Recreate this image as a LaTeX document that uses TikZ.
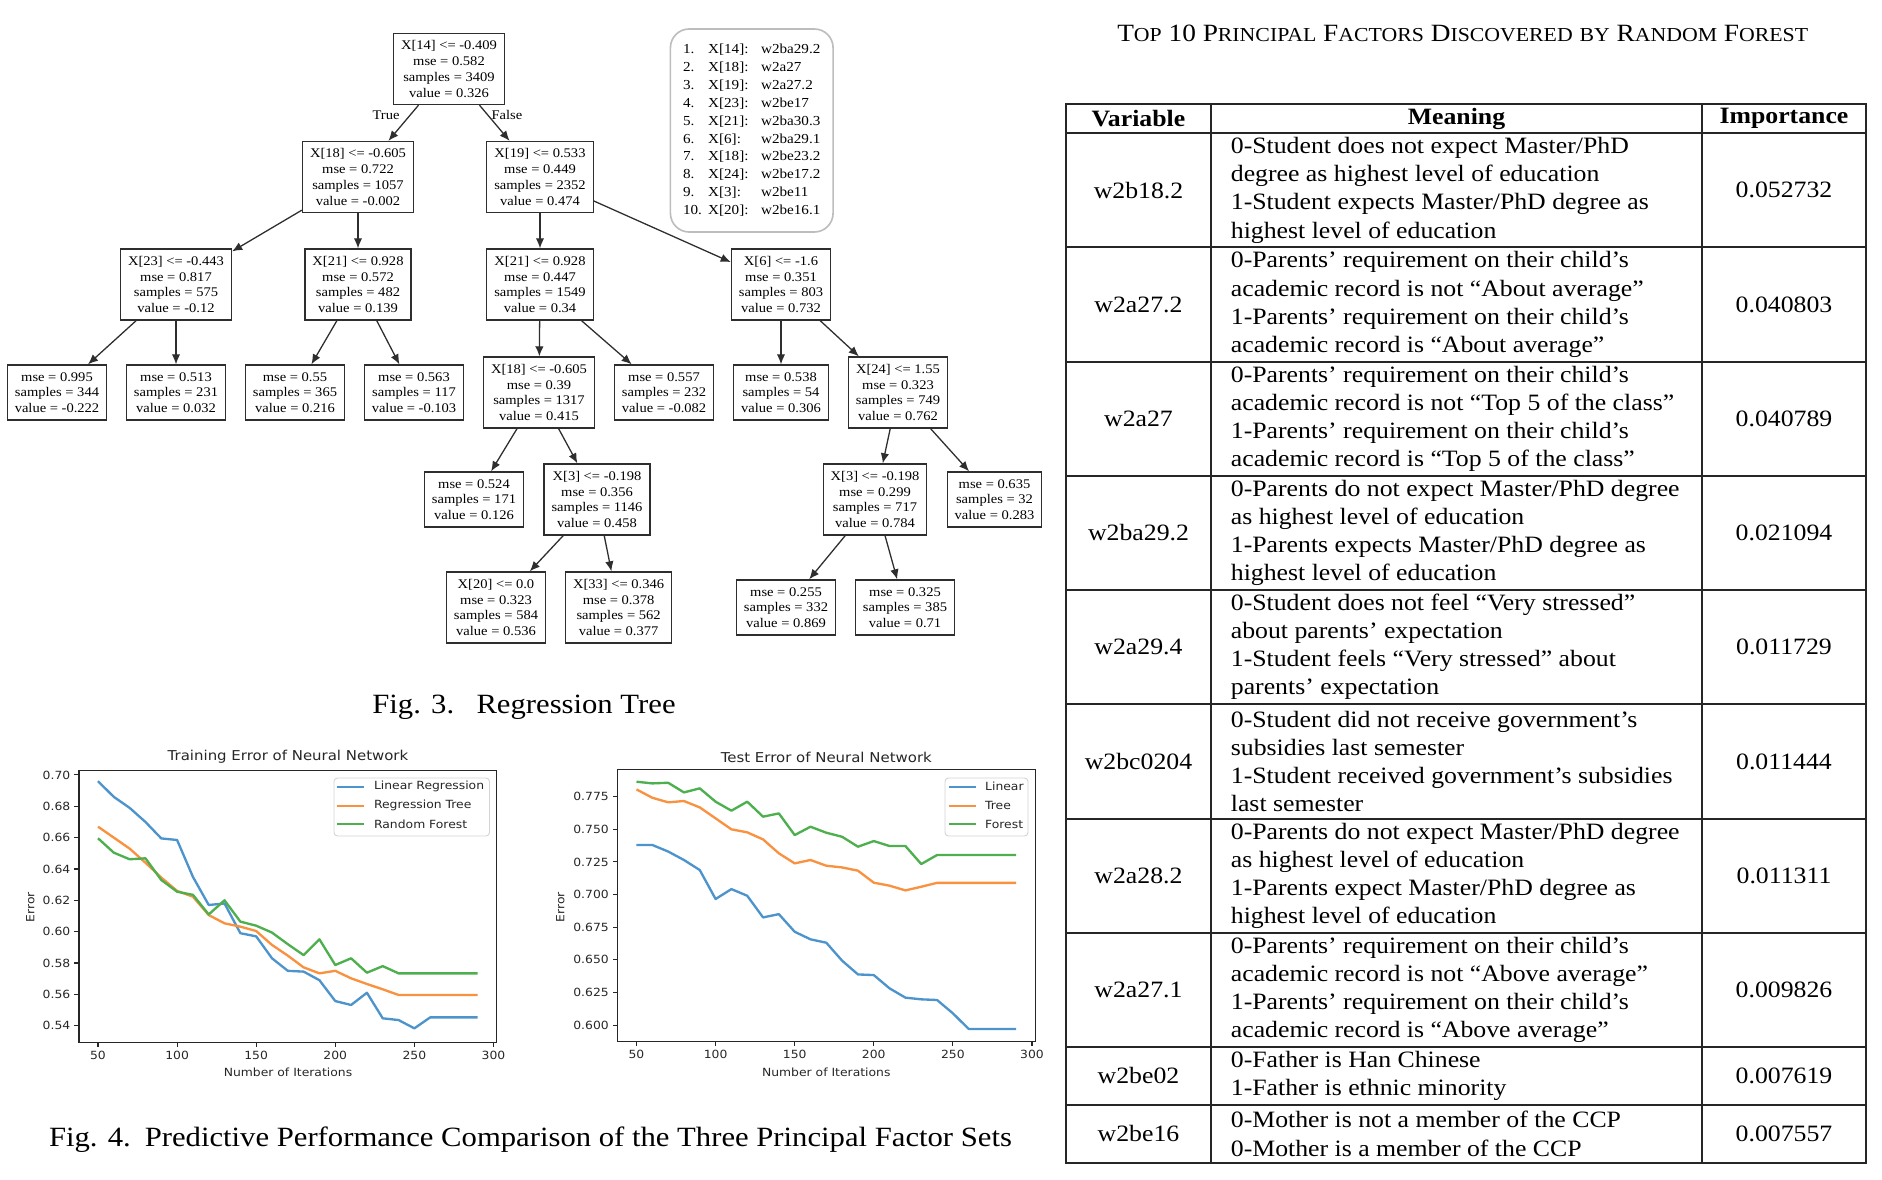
\documentclass[tikz,border=0pt]{standalone}
\usepackage{fontspec}
\setmainfont{Liberation Serif}[FakeStretch=1.1]
\newfontfamily\plotfont{DejaVu Sans}[FakeStretch=1.1]
\usepackage{tikz}
\usetikzlibrary{arrows.meta,calc}
\definecolor{treeline}{HTML}{2E2E2E}
\definecolor{keyline}{HTML}{BDBDBD}
\definecolor{ink}{HTML}{262626}
\definecolor{legline}{HTML}{D4D4D4}
\definecolor{linreg}{HTML}{4E94CC}
\definecolor{regtree}{HTML}{F99240}
\definecolor{rforest}{HTML}{4DAF4D}

\newcommand\treefont{\fontsize{5.64}{6.7}\selectfont}
\newcommand\keyfont{\fontsize{5.87}{7.64}\selectfont}
\newcommand\tabfont{\fontsize{10}{12}\selectfont}
\newcommand\capfont{\fontsize{11.9}{14}\selectfont}
\newcommand\tickfont{\plotfont\fontsize{4.8}{5.8}\selectfont}
\newcommand\ttlfont{\plotfont\fontsize{5.8}{7}\selectfont}
\newcommand\smc[1]{{\fontsize{8.45}{10}\selectfont #1}}

\begin{document}
\begin{tikzpicture}[x=0.015cm,y=-0.015cm,
  tnode/.style={draw=treeline,line width=.55pt,align=center,font=\treefont,inner xsep=3.2pt,inner ysep=1pt,minimum height=1.065cm},
  tleaf/.style={tnode,minimum height=.825cm},
  tedge/.style={-{Latex[length=4.3pt,width=3.6pt]},draw=treeline,line width=.55pt},
  tlabel/.style={font=\treefont,inner sep=0pt},
  keybox/.style={draw=keyline,line width=.7pt,rounded corners=8pt,minimum width=2.44cm,minimum height=3.045cm,inner sep=0pt},
  pframe/.style={draw=ink,line width=.45pt},
  ticklbl/.style={font=\tickfont,text=ink,inner sep=1.4pt},
  ptitle/.style={font=\ttlfont,text=ink},
  legbox/.style={draw=legline,fill=white,line width=.4pt,rounded corners=1.5pt,inner sep=0pt,minimum height=.87cm},
  pline/.style={line width=1pt,line join=round},
  tline/.style={draw=ink,line width=.7pt},
  tcell/.style={font=\tabfont,inner sep=0pt},
  tmean/.style={tcell,anchor=west,align=left},
  figcap/.style={font=\capfont}]
  \useasboundingbox (0,0) rectangle (1882,1180);

  % regression tree
  \node[tnode] (root) at (449,69) {X[14] <= -0.409\\mse = 0.582\\samples = 3409\\value = 0.326};
  \node[tnode] (t18) at (358,177) {X[18] <= -0.605\\mse = 0.722\\samples = 1057\\value = -0.002};
  \node[tnode] (t19) at (540,177) {X[19] <= 0.533\\mse = 0.449\\samples = 2352\\value = 0.474};
  \node[tnode] (t23) at (176,284.5) {X[23] <= -0.443\\mse = 0.817\\samples = 575\\value = -0.12};
  \node[tnode] (t21a) at (358,284.5) {X[21] <= 0.928\\mse = 0.572\\samples = 482\\value = 0.139};
  \node[tnode] (t21b) at (540,284.5) {X[21] <= 0.928\\mse = 0.447\\samples = 1549\\value = 0.34};
  \node[tnode] (t6) at (781,284.5) {X[6] <= -1.6\\mse = 0.351\\samples = 803\\value = 0.732};
  \node[tleaf] (l995) at (57,392.5) {mse = 0.995\\samples = 344\\value = -0.222};
  \node[tleaf] (l513) at (176,392.5) {mse = 0.513\\samples = 231\\value = 0.032};
  \node[tleaf] (l55) at (295,392.5) {mse = 0.55\\samples = 365\\value = 0.216};
  \node[tleaf] (l563) at (414,392.5) {mse = 0.563\\samples = 117\\value = -0.103};
  \node[tnode] (t18b) at (539,392.5) {X[18] <= -0.605\\mse = 0.39\\samples = 1317\\value = 0.415};
  \node[tleaf] (l557) at (664,392.5) {mse = 0.557\\samples = 232\\value = -0.082};
  \node[tleaf] (l538) at (781,392.5) {mse = 0.538\\samples = 54\\value = 0.306};
  \node[tnode] (t24) at (898,392.5) {X[24] <= 1.55\\mse = 0.323\\samples = 749\\value = 0.762};
  \node[tleaf] (l524) at (474,499.5) {mse = 0.524\\samples = 171\\value = 0.126};
  \node[tnode] (t3a) at (597,499.5) {X[3] <= -0.198\\mse = 0.356\\samples = 1146\\value = 0.458};
  \node[tnode] (t3b) at (875,499.5) {X[3] <= -0.198\\mse = 0.299\\samples = 717\\value = 0.784};
  \node[tleaf] (l635) at (994.5,499.5) {mse = 0.635\\samples = 32\\value = 0.283};
  \node[tnode] (t20) at (496,607.5) {X[20] <= 0.0\\mse = 0.323\\samples = 584\\value = 0.536};
  \node[tnode] (t33) at (618.6,607.5) {X[33] <= 0.346\\mse = 0.378\\samples = 562\\value = 0.377};
  \node[tleaf] (l255) at (786,607.5) {mse = 0.255\\samples = 332\\value = 0.869};
  \node[tleaf] (l325) at (905,607.5) {mse = 0.325\\samples = 385\\value = 0.71};
  \node[tlabel] (ltrue) at (386,115) {True};
  \node[tlabel] (lfalse) at (507,115) {False};
  \draw[tedge] (root)--(t18);
  \draw[tedge] (root)--(t19);
  \draw[tedge] (t18)--(t23);
  \draw[tedge] (t18)--(t21a);
  \draw[tedge] (t19)--(t21b);
  \draw[tedge] (t19)--(t6);
  \draw[tedge] (t23)--(l995);
  \draw[tedge] (t23)--(l513);
  \draw[tedge] (t21a)--(l55);
  \draw[tedge] (t21a)--(l563);
  \draw[tedge] (t21b)--(t18b);
  \draw[tedge] (t21b)--(l557);
  \draw[tedge] (t6)--(l538);
  \draw[tedge] (t6)--(t24);
  \draw[tedge] (t18b)--(l524);
  \draw[tedge] (t18b)--(t3a);
  \draw[tedge] (t24)--(t3b);
  \draw[tedge] (t24)--(l635);
  \draw[tedge] (t3a)--(t20);
  \draw[tedge] (t3a)--(t33);
  \draw[tedge] (t3b)--(l255);
  \draw[tedge] (t3b)--(l325);

  \node[keybox] (key) at (751.75,130.5) {\keyfont\begin{tabular}{@{}p{10.7pt}@{}p{22.6pt}@{}l@{}}
    1. & X[14]: & w2ba29.2\\
    2. & X[18]: & w2a27\\
    3. & X[19]: & w2a27.2\\
    4. & X[23]: & w2be17\\
    5. & X[21]: & w2ba30.3\\
    6. & X[6]: & w2ba29.1\\
    7. & X[18]: & w2be23.2\\
    8. & X[24]: & w2be17.2\\
    9. & X[3]: & w2be11\\
    10. & X[20]: & w2be16.1
  \end{tabular}};
  \node[figcap] (cap3) at (524,707) {Fig. 3.\hspace{0.8em}Regression Tree};

  % training error
  \node[ptitle] (trt) at (288,757) {Training Error of Neural Network};
  \node[ticklbl,rotate=90] (trey) at (30.4,907) {Error};
  \node[ticklbl] (trex) at (288,1072) {Number of Iterations};
  \begin{scope}[shift={(18.9,1871.83)},x=0.02373cm,y=23.5035cm]
    \draw[pframe] (38,0.5295) rectangle (302,0.7027);
    \foreach \t in {50,100,...,300}
      \draw[pframe] (\t,0.5295) -- ++(0pt,-2.1pt) node[below,ticklbl]{\t};
    \foreach \v in {0.54,0.56,0.58,0.60,0.62,0.64,0.66,0.68,0.70}
      \draw[pframe] (38,\v) -- ++(-2.1pt,0pt) node[left,ticklbl]{\v};
    \draw[pline,linreg] plot coordinates {(50,0.696) (60,0.686) (70,0.679) (80,0.670) (90,0.6595) (100,0.6585) (110,0.635) (120,0.617) (130,0.618) (140,0.599) (150,0.597) (160,0.583) (170,0.575) (180,0.5745) (190,0.569) (200,0.5557) (210,0.5532) (220,0.561) (230,0.5447) (240,0.5436) (250,0.5383) (260,0.5453) (270,0.5453) (280,0.5453) (290,0.5453)};
    \draw[pline,regtree] plot coordinates {(50,0.667) (60,0.660) (70,0.653) (80,0.644) (90,0.6345) (100,0.626) (110,0.6223) (120,0.6106) (130,0.6053) (140,0.6032) (150,0.6004) (160,0.5915) (170,0.5847) (180,0.5772) (190,0.5734) (200,0.575) (210,0.5702) (220,0.5666) (230,0.5632) (240,0.5596) (250,0.5596) (260,0.5596) (270,0.5596) (280,0.5596) (290,0.5596)};
    \draw[pline,rforest] plot coordinates {(50,0.6596) (60,0.6504) (70,0.6462) (80,0.6468) (90,0.633) (100,0.6255) (110,0.6235) (120,0.611) (130,0.620) (140,0.6064) (150,0.6038) (160,0.5994) (170,0.592) (180,0.585) (190,0.5951) (200,0.5787) (210,0.583) (220,0.5738) (230,0.578) (240,0.5734) (250,0.5734) (260,0.5734) (270,0.5734) (280,0.5734) (290,0.5734)};
  \end{scope}
  \node[legbox,minimum width=2.3325cm] (trl) at (411.75,807) {};
  \draw[pline,linreg] (337.4,786.7) -- (364.4,786.7);
  \draw[pline,regtree] (337.4,805.7) -- (364.4,805.7);
  \draw[pline,rforest] (337.4,824.3) -- (364.4,824.3);
  \node[ticklbl,anchor=west,inner sep=0pt] (trl1) at (373.6,786.7) {Linear Regression};
  \node[ticklbl,anchor=west,inner sep=0pt] (trl2) at (373.6,805.7) {Regression Tree};
  \node[ticklbl,anchor=west,inner sep=0pt] (trl3) at (373.6,824.3) {Random Forest};

  % test error
  \node[ptitle] (tst) at (826.3,757) {Test Error of Neural Network};
  \node[ticklbl,rotate=90] (tsey) at (560.4,907) {Error};
  \node[ticklbl] (tsex) at (826.3,1072) {Number of Iterations};
  \begin{scope}[shift={(557.4,1807.9)},x=0.02373cm,y=19.5705cm]
    \draw[pframe] (38,0.5875) rectangle (302,0.796);
    \foreach \t in {50,100,...,300}
      \draw[pframe] (\t,0.5875) -- ++(0pt,-2.1pt) node[below,ticklbl]{\t};
    \foreach \v in {0.600,0.625,0.650,0.675,0.700,0.725,0.750,0.775}
      \draw[pframe] (38,\v) -- ++(-2.1pt,0pt) node[left,ticklbl]{\v};
    \draw[pline,linreg] plot coordinates {(50,0.738) (60,0.738) (70,0.733) (80,0.7265) (90,0.7188) (100,0.6966) (110,0.7042) (120,0.6991) (130,0.6825) (140,0.685) (150,0.6715) (160,0.6657) (170,0.6631) (180,0.6493) (190,0.6388) (200,0.6383) (210,0.6281) (220,0.621) (230,0.6197) (240,0.6192) (250,0.609) (260,0.597) (270,0.597) (280,0.597) (290,0.597)};
    \draw[pline,regtree] plot coordinates {(50,0.7806) (60,0.7742) (70,0.7707) (80,0.7717) (90,0.7668) (100,0.7584) (110,0.750) (120,0.7477) (130,0.7423) (140,0.7316) (150,0.7239) (160,0.7265) (170,0.7221) (180,0.7208) (190,0.7183) (200,0.7091) (210,0.7068) (220,0.7032) (230,0.706) (240,0.709) (250,0.709) (260,0.709) (270,0.709) (280,0.709) (290,0.709)};
    \draw[pline,rforest] plot coordinates {(50,0.7865) (60,0.7852) (70,0.7857) (80,0.7783) (90,0.7814) (100,0.7712) (110,0.7643) (120,0.7712) (130,0.7597) (140,0.7622) (150,0.7456) (160,0.752) (170,0.7474) (180,0.7443) (190,0.7367) (200,0.741) (210,0.7372) (220,0.7372) (230,0.7234) (240,0.7303) (250,0.7303) (260,0.7303) (270,0.7303) (280,0.7303) (290,0.7303)};
  \end{scope}
  \node[legbox,minimum width=1.245cm] (tsl) at (986.5,807) {};
  \draw[pline,linreg] (949.2,786.7) -- (975.6,786.7);
  \draw[pline,regtree] (949.2,805.7) -- (975.6,805.7);
  \draw[pline,rforest] (949.2,824.3) -- (975.6,824.3);
  \node[ticklbl,anchor=west,inner sep=0pt] (tsl1) at (984.7,786.7) {Linear};
  \node[ticklbl,anchor=west,inner sep=0pt] (tsl2) at (984.7,805.7) {Tree};
  \node[ticklbl,anchor=west,inner sep=0pt] (tsl3) at (984.7,824.3) {Forest};
  \node[figcap] (cap4) at (530.5,1140) {Fig. 4.\hspace{0.5em}Predictive Performance Comparison of the Three Principal Factor Sets};

  % factor table
  \node[font={\fontsize{10.6}{12}\selectfont}] (ttl) at (1462.7,33.3) {T\smc{OP} 10 P\smc{RINCIPAL} F\smc{ACTORS} D\smc{ISCOVERED} \smc{BY} R\smc{ANDOM} F\smc{OREST}};
  \draw[tline] (1066,104) rectangle (1866,1162.7);
  \draw[tline] (1211,104) -- (1211,1162.7);
  \draw[tline] (1702,104) -- (1702,1162.7);
  \foreach \y in {133.3,247.3,361.7,475.7,590,704,819,932.7,1046.7,1105}
    \draw[tline] (1066,\y) -- (1866,\y);
  \node[tcell] (hv) at (1138.5,118.7) {\bfseries Variable};
  \node[tcell] (hm) at (1456.5,118.7) {\bfseries Meaning};
  \node[tcell] (hi) at (1784,118.7) {\bfseries Importance};

  \node[tcell] (v1) at (1138.5,190.3) {w2b18.2};
  \node[tmean] (m1) at (1230.4,190.3) {0-Student does not expect Master/PhD\\degree as highest level of education\\1-Student expects Master/PhD degree as\\highest level of education};
  \node[tcell] (i1) at (1784,190.3) {0.052732};
  \node[tcell] (v2) at (1138.5,304.5) {w2a27.2};
  \node[tmean] (m2) at (1230.4,304.5) {0-Parents’ requirement on their child’s\\academic record is not “About average”\\1-Parents’ requirement on their child’s\\academic record is “About average”};
  \node[tcell] (i2) at (1784,304.5) {0.040803};
  \node[tcell] (v3) at (1138.5,418.7) {w2a27};
  \node[tmean] (m3) at (1230.4,418.7) {0-Parents’ requirement on their child’s\\academic record is not “Top 5 of the class”\\1-Parents’ requirement on their child’s\\academic record is “Top 5 of the class”};
  \node[tcell] (i3) at (1784,418.7) {0.040789};
  \node[tcell] (v4) at (1138.5,532.9) {w2ba29.2};
  \node[tmean] (m4) at (1230.4,532.9) {0-Parents do not expect Master/PhD degree\\as highest level of education\\1-Parents expects Master/PhD degree as\\highest level of education};
  \node[tcell] (i4) at (1784,532.9) {0.021094};
  \node[tcell] (v5) at (1138.5,647) {w2a29.4};
  \node[tmean] (m5) at (1230.4,647) {0-Student does not feel “Very stressed”\\about parents’ expectation\\1-Student feels “Very stressed” about\\parents’ expectation};
  \node[tcell] (i5) at (1784,647) {0.011729};
  \node[tcell] (v6) at (1138.5,761.5) {w2bc0204};
  \node[tmean] (m6) at (1230.4,761.5) {0-Student did not receive government’s\\subsidies last semester\\1-Student received government’s subsidies\\last semester};
  \node[tcell] (i6) at (1784,761.5) {0.011444};
  \node[tcell] (v7) at (1138.5,875.9) {w2a28.2};
  \node[tmean] (m7) at (1230.4,875.9) {0-Parents do not expect Master/PhD degree\\as highest level of education\\1-Parents expect Master/PhD degree as\\highest level of education};
  \node[tcell] (i7) at (1784,875.9) {0.011311};
  \node[tcell] (v8) at (1138.5,989.7) {w2a27.1};
  \node[tmean] (m8) at (1230.4,989.7) {0-Parents’ requirement on their child’s\\academic record is not “Above average”\\1-Parents’ requirement on their child’s\\academic record is “Above average”};
  \node[tcell] (i8) at (1784,989.7) {0.009826};
  \node[tcell] (v9) at (1138.5,1075.9) {w2be02};
  \node[tmean] (m9) at (1230.4,1075.9) {0-Father is Han Chinese\\1-Father is ethnic minority};
  \node[tcell] (i9) at (1784,1075.9) {0.007619};
  \node[tcell] (v10) at (1138.5,1133.9) {w2be16};
  \node[tmean] (m10) at (1230.4,1133.9) {0-Mother is not a member of the CCP\\0-Mother is a member of the CCP};
  \node[tcell] (i10) at (1784,1133.9) {0.007557};
\end{tikzpicture}
\end{document}
